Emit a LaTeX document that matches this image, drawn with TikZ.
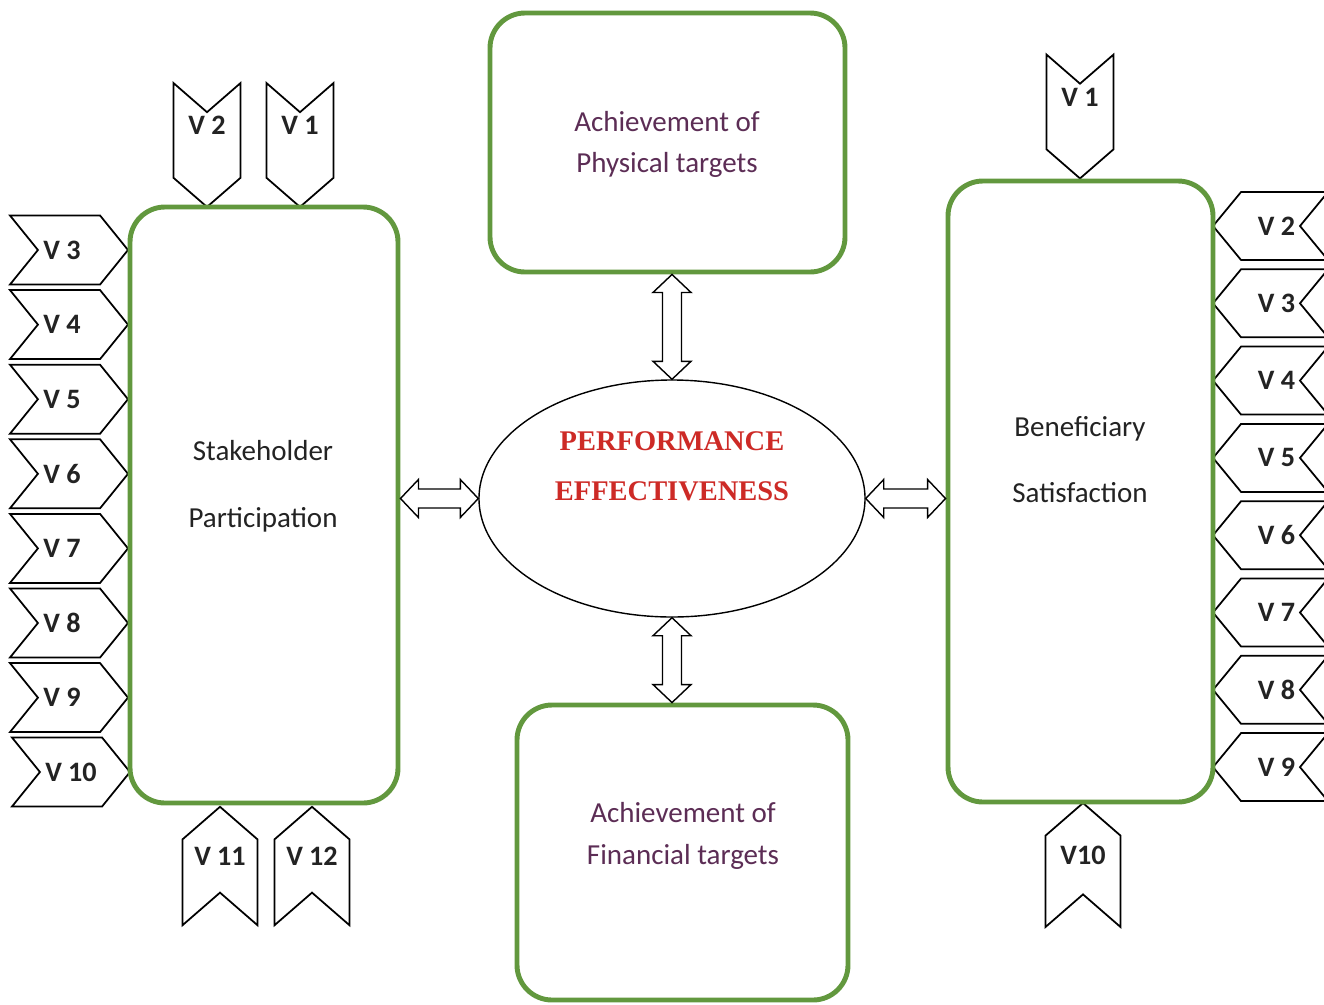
\documentclass[tikz,border=0pt]{standalone}
\usepackage{fontspec}
\setmainfont{Carlito}
\newfontfamily\perffont{Liberation Serif}
\usetikzlibrary{shapes.geometric,shapes.symbols,calc}

\definecolor{boxgreen}{RGB}{98,152,62}
\definecolor{targetpurple}{RGB}{92,45,85}
\definecolor{perfred}{RGB}{205,42,38}
\definecolor{labelgray}{RGB}{35,35,35}

\tikzset{
	factorbox/.style={draw=boxgreen, line width=2.8pt, rounded corners=0.7cm, fill=white, inner sep=0pt},
	boxtext/.style={align=center, text=labelgray, font=\fontsize{16.5}{23.5}\selectfont},
	targettext/.style={boxtext, text=targetpurple},
	perftext/.style={align=center, text=perfred, font=\perffont\bfseries\fontsize{16.2}{28.4}\selectfont},
	vtag/.style={draw=black, line width=1pt, fill=white, shape=signal, inner sep=0pt, text=labelgray, font=\bfseries\fontsize{16}{19}\selectfont},
	vleft/.style={vtag, signal from=west, signal to=east, signal pointer angle=102, minimum width=2.36cm, minimum height=1.38cm, execute at end node=\hspace*{#1}},
	vleft/.default=0.28cm,
	vright/.style={vtag, signal from=east, signal to=west, signal pointer angle=101, minimum width=2.3cm, minimum height=1.36cm, execute at begin node=\hspace*{0.24cm}},
	vdown/.style={vtag, signal from=north, signal to=south, signal pointer angle=98, minimum width=1.34cm, minimum height=1.96cm, text depth=#1},
	vdown/.default=0.8cm,
	vup/.style={vtag, signal from=south, signal to=north, signal pointer angle=98, minimum width=1.5cm, minimum height=1.96cm, text depth=#1},
	vup/.default=0.4cm,
	blockarrow/.style={draw=black, line width=0.8pt, fill=white, line join=miter}
}

% hollow two-headed arrow between two points
\newcommand{\dblarrow}[2]{%
	\draw[blockarrow] (#1)
		-- ($(#1)!0.36cm!(#2)!0.38cm!90:(#2)$)
		-- ($(#1)!0.36cm!(#2)!0.19cm!90:(#2)$)
		-- ($(#2)!0.36cm!(#1)!0.19cm!-90:(#1)$)
		-- ($(#2)!0.36cm!(#1)!0.38cm!-90:(#1)$)
		-- (#2)
		-- ($(#2)!0.36cm!(#1)!0.38cm!90:(#1)$)
		-- ($(#2)!0.36cm!(#1)!0.19cm!90:(#1)$)
		-- ($(#1)!0.36cm!(#2)!0.19cm!-90:(#2)$)
		-- ($(#1)!0.36cm!(#2)!0.38cm!-90:(#2)$)
		-- cycle;}

\begin{document}
\begin{tikzpicture}[x=0.2mm, y=-0.2mm]
	\useasboundingbox (0, 0) rectangle (1324, 1004);
	\clip (0, 0) rectangle (1324, 1004);

	% stakeholder side
	\foreach \i in {3,...,9}
		\node[vleft] (sv\i) at (69, {250+74.6*(\i-3)}) {V \i};
	\node[vleft=0pt] (sv10) at (71, 772) {V 10};
	\node[vdown] (sv2) at (207, 145) {V 2};
	\node[vdown] (sv1) at (300, 145) {V 1};
	\node[vup] (sv11) at (220, 866) {V 11};
	\node[vup] (sv12) at (312, 866) {V 12};
	\node[factorbox, minimum width=5.36cm, minimum height=11.92cm] (stake) at (264, 505) {};
	\node[boxtext] (stakeText) at (263, 486) {Stakeholder\\[14.5pt]Participation};

	% beneficiary side
	\foreach \i in {2,...,9}
		\node[vright] (bv\i) at (1270.5, {226+77.3*(\i-2)}) {V \i};
	\node[vdown=0.76cm] (bv1) at (1080, 116.5) {V 1};
	\node[vup] (bv10) at (1083, 865) {V10};
	\node[factorbox, minimum width=5.3cm, minimum height=12.42cm] (bene) at (1080.5, 491.5) {};
	\node[boxtext] (beneText) at (1080, 460) {Beneficiary\\[14pt]Satisfaction};

	% targets
	\node[factorbox, minimum width=7.1cm, minimum height=5.18cm] (phys) at (667.5, 142.5) {};
	\node[targettext] (physText) at (667, 144.5) {Achievement of\\Physical targets};
	\node[factorbox, minimum width=6.62cm, minimum height=5.9cm] (fin) at (682.5, 852.5) {};
	\node[targettext] (finText) at (683, 836) {Achievement of\\Financial targets};

	% centre
	\node[draw, ellipse, line width=0.8pt, inner sep=0pt, minimum width=7.72cm, minimum height=4.74cm] (perf) at (672, 498.5) {};
	\node[perftext] (perfText) at (672, 466) {PERFORMANCE\\EFFECTIVENESS};

	\dblarrow{perf.west -| stake.east}{perf.west}
	\dblarrow{perf.east}{perf.east -| bene.west}
	\dblarrow{perf.north |- phys.south}{perf.north}
	\dblarrow{perf.south}{perf.south |- fin.north}
\end{tikzpicture}
\end{document}
